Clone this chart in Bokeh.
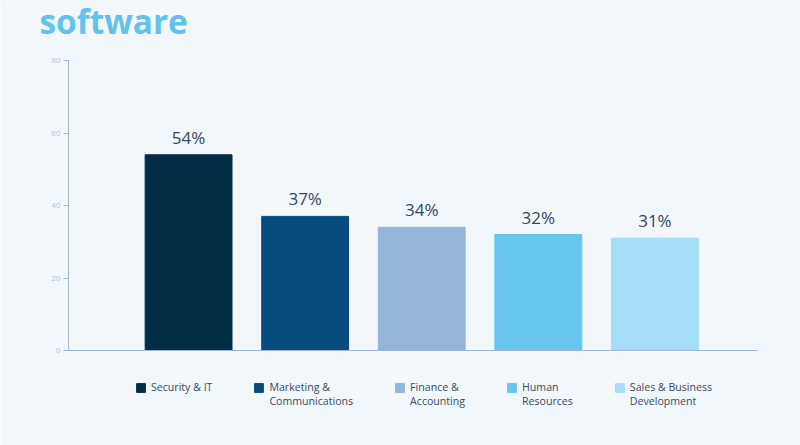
from bokeh.plotting import figure
from bokeh.models import (ColumnDataSource, Range1d, FixedTicker, Legend, LegendItem,
                          LinearAxis)
from bokeh.core.properties import value
from bokeh.embed import file_html
from bokeh.resources import INLINE

# data
categories = ["Security & IT", "Marketing &\nCommunications", "Finance &\nAccounting",
              "Human\nResources", "Sales & Business\nDevelopment"]
shares = [54, 37, 34, 32, 31]
bar_colors = ["#022d47", "#074a7d", "#94b5da", "#67c5ee", "#a5ddf8"]
y_ticks = [0, 20, 40, 60, 80]
heading = "software"

BG = "#f2f7fc"
AXIS = "#9fb8d9"

# canvas and where the bar area sits in it (pixels from top-left)
W, H = 800, 445
PL, PR, PT, PB = 68, 757, 60, 350
x_lo, x_hi = -1.03, 4.88      # slot positions at the left/right end of the axis line
y_lo, y_hi = 0, 80

# the frame fills the whole canvas, so stretch the data ranges to put the
# bar area where it belongs; title and legend use a plain pixel range
xs = (x_hi - x_lo) / (PR - PL)
ys = (y_hi - y_lo) / (PB - PT)

src = ColumnDataSource(data=dict(
    x=list(range(len(categories))),
    top=shares,
    color=bar_colors,
    label=["%d%%" % s for s in shares],
))

p = figure(width=W, height=H, output_backend="svg", toolbar_location=None,
           x_range=Range1d(x_lo - PL * xs, x_hi + (W - PR) * xs),
           y_range=Range1d(y_lo - (H - PB) * ys, y_hi + PT * ys),
           x_axis_location=None, y_axis_location=None, min_border=0)
p.extra_x_ranges = {"px": Range1d(0, W)}
p.extra_y_ranges = {"px": Range1d(0, H)}
p.background_fill_color = BG
p.border_fill_color = BG
p.outline_line_color = None
p.grid.visible = False

# heading
p.text(x=[39], y=[H - 20], text=[heading], x_range_name="px", y_range_name="px",
       text_font=value("Open Sans"), text_font_size="33.4px", text_font_style="bold",
       text_color="#62c2eb", text_baseline="alphabetic")

bars = p.vbar(x="x", top="top", width=0.745, color="color", source=src)
p.text(x="x", y="top", text="label", source=src, y_offset=-6,
       text_align="center", text_baseline="bottom",
       text_font=value("Open Sans"), text_font_size="17px", text_color="#36475a")

# axes pinned to the bar area
yax = LinearAxis(ticker=FixedTicker(ticks=y_ticks), bounds=(y_lo, y_hi), fixed_location=x_lo)
yax.axis_line_color = AXIS
yax.major_tick_line_color = AXIS
yax.major_tick_out = 5
yax.major_tick_in = 0
yax.minor_tick_line_color = None
yax.major_label_text_font = "Open Sans"
yax.major_label_text_font_size = "8px"
yax.major_label_text_color = "#b3c3d9"
yax.major_label_standoff = 3
p.add_layout(yax, "left")

xax = LinearAxis(ticker=FixedTicker(ticks=[]), bounds=(x_lo, x_hi), fixed_location=y_lo)
xax.axis_line_color = AXIS
xax.major_tick_line_color = None
xax.minor_tick_line_color = None
xax.major_label_text_font_size = "0px"
p.add_layout(xax, "below")

# legend under the bars; the swatch is centred on the label block, so two-line
# labels get an empty first line to keep the swatch level with their first line
def legend_label(c):
    return "\n" + c if "\n" in c else c

items = [LegendItem(label=legend_label(c), renderers=[bars], index=i)
         for i, c in enumerate(categories)]
legend = Legend(items=items, orientation="horizontal", location=(135, 37),
                spacing=41, glyph_width=11, glyph_height=11, label_standoff=5,
                label_text_font="Open Sans", label_text_font_size="10.6px",
                label_text_color="#3c4b5e", label_text_line_height=1.02,
                background_fill_alpha=0, border_line_color=None,
                padding=0, margin=0)
p.add_layout(legend)

open("out.html", "w").write(file_html(p, INLINE))
